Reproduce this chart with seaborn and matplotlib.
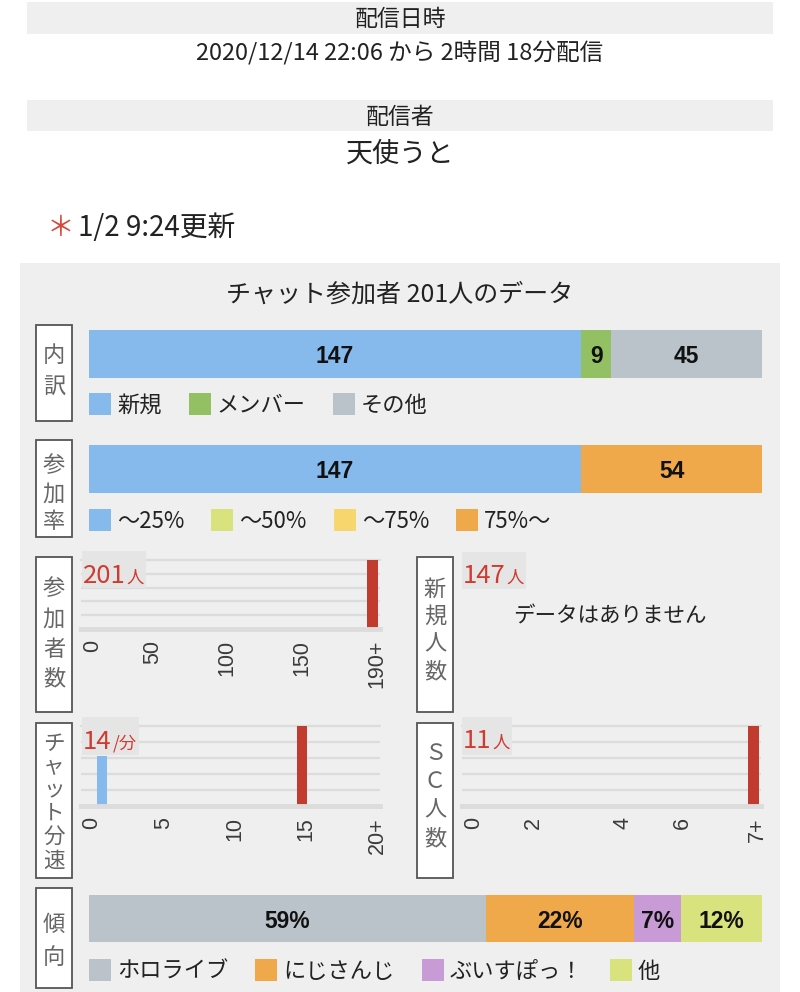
import itertools
import matplotlib
matplotlib.use("Agg")
import matplotlib.pyplot as plt
import matplotlib.transforms as mtransforms
import seaborn as sns
import pandas as pd
from matplotlib.patches import Rectangle

# ---------------- data ----------------
header_date_label = "配信日時"
stream_info = "2020/12/14 22:06 から 2時間 18分配信"
streamer_label = "配信者"
streamer = "天使うと"
update_mark = "＊"
update_text = "1/2 9:24更新"
title = "チャット参加者 201人のデータ"

breakdown_name = "内訳"
breakdown_labels = ["新規", "メンバー", "その他"]
breakdown_values = [147, 9, 45]

rate_name = "参加率"
rate_labels = ["～25%", "～50%", "～75%", "75%～"]
rate_values = [147, 0, 0, 54]

trend_name = "傾向"
trend_labels = ["ホロライブ", "にじさんじ", "ぶいすぽっ！", "他"]
trend_values = [59, 22, 7, 12]

count_name = "参加者数"
count_value = "201"
count_unit = "人"
count_hist = [0, 0, 0, 0, 0, 0, 0, 0, 0, 0, 0, 0, 0, 0, 0, 0, 0, 0, 0, 0]
count_marker_bin = 19
count_tick_bins = [0, 4, 9, 14, 19]
count_tick_labels = ["0", "50", "100", "150", "190+"]

new_name = "新規人数"
new_value = "147"
new_unit = "人"
no_data_text = "データはありません"

chat_name = "チャット分速"
chat_value = "14"
chat_unit = "/分"
chat_hist = [0, 0.62, 0, 0, 0, 0, 0, 0, 0, 0, 0, 0, 0, 0, 0, 0, 0, 0, 0, 0, 0]
chat_marker_bin = 15
chat_tick_bins = [0, 5, 10, 15, 20]
chat_tick_labels = ["0", "5", "10", "15", "20+"]

sc_name = "ＳＣ人数"
sc_value = "11"
sc_unit = "人"
sc_hist = [0, 0, 0, 0, 0, 0, 0, 0, 0, 0, 0, 0, 0, 0, 0, 0, 0, 0, 0, 0]
sc_marker_bin = 19
sc_tick_bins = [0, 4, 10, 14, 19]
sc_tick_labels = ["0", "2", "4", "6", "7+"]

# ---------------- style ----------------
BLUE = "#86b9ec"
GREEN = "#93c062"
GRAY = "#b9c3c9"
ORANGE = "#f0a94a"
LIME = "#d8e37d"
YELLOW = "#f8d66e"
PURPLE = "#c89ad6"
RED_BAR = "#c23b2f"
RED_TXT = "#cf3b30"
PANEL = "#efefef"
VBOX = "#e5e5e5"
TXT = "#222222"
GRID = "#dcdcdc"

breakdown_colors = [BLUE, GREEN, GRAY]
rate_colors = [BLUE, LIME, YELLOW, ORANGE]
trend_colors = [GRAY, ORANGE, PURPLE, LIME]

sns.set_theme(style="white")
JP = ['Noto Sans CJK JP', 'DejaVu Sans']
plt.rcParams['font.family'] = JP

W, H = 800, 992
fig = plt.figure(figsize=(W / 100, H / 100), dpi=100)
fig.patch.set_facecolor("white")
renderer = fig.canvas.get_renderer()


def px_axes(x0, y0, x1, y1, z):
    return fig.add_axes([x0 / W, 1 - y1 / H, (x1 - x0) / W, (y1 - y0) / H], zorder=z)


bg = px_axes(0, 0, W, H, 0)
bg.set_xlim(0, W)
bg.set_ylim(H, 0)
bg.axis("off")
ov = px_axes(0, 0, W, H, 10)
ov.set_xlim(0, W)
ov.set_ylim(H, 0)
ov.axis("off")

# ---------------- header ----------------
bg.add_patch(Rectangle((27, 2), 746, 32, color=PANEL, lw=0))
bg.text(400, 19, header_date_label, ha="center", va="center", fontsize=16.5, color=TXT)
bg.text(400, 53, stream_info, ha="center", va="center", fontsize=17, color=TXT)
bg.add_patch(Rectangle((27, 100), 746, 31, color=PANEL, lw=0))
bg.text(400, 117, streamer_label, ha="center", va="center", fontsize=16.5, color=TXT)
bg.text(400, 154, streamer, ha="center", va="center", fontsize=19.5, color=TXT)
bg.text(47, 228, update_mark, ha="left", va="center", fontsize=20, color="#d9463b")
bg.text(78, 228, update_text, ha="left", va="center", fontsize=20, color=TXT)

# ---------------- panel ----------------
bg.add_patch(Rectangle((20, 263), 760, H - 263, color=PANEL, lw=0))
bg.text(400, 295, title, ha="center", va="center", fontsize=18, color=TXT)


def vlabel(x0, y0, x1, y1, chars, ystart, step, fs=16):
    bg.add_patch(Rectangle((x0, y0), x1 - x0, y1 - y0, facecolor="white",
                           edgecolor="#555555", lw=1.3))
    for i, ch in enumerate(chars):
        bg.text((x0 + x1) / 2, ystart + i * step, ch, ha="center", va="center",
                fontsize=fs, color="#666666")


vlabel(36, 325, 72, 421, breakdown_name, 355, 32)
vlabel(36, 440, 72, 537, rate_name, 466, 28)
vlabel(36, 557, 72, 712, count_name, 589, 30)
vlabel(417, 557, 453, 712, new_name, 589, 27.5)
vlabel(36, 723, 72, 878, chat_name, 744, 23.3, fs=15.5)
vlabel(417, 723, 453, 878, sc_name, 753, 28.5)
vlabel(36, 888, 72, 988, trend_name, 924, 34)


def legend_row(y, labels, colors, x=89):
    for lab, col in zip(labels, colors):
        bg.add_patch(Rectangle((x, y - 11), 22, 22, color=col, lw=0))
        t = bg.text(x + 28, y + 1, lab, ha="left", va="center", fontsize=16, color=TXT)
        bb = t.get_window_extent(renderer)
        x = bb.x1 + 27


def stacked_bar(y0, y1, values, colors, fmt):
    ax = px_axes(89, y0, 762, y1, 2)
    cums = list(itertools.accumulate(values))
    for cum, col in reversed(list(zip(cums, colors))):
        sns.barplot(x=[cum], y=["bar"], color=col, width=1, saturation=1,
                    linewidth=0, orient="h", ax=ax)
    ax.set_xlim(0, cums[-1])
    ax.set_ylim(0.5, -0.5)
    ax.axis("off")
    for v, c in zip(values, cums):
        if v > 0:
            ax.text(c - v / 2, 0, fmt(v), ha="center", va="center_baseline",
                    fontsize=16.5, fontweight="bold", family="Liberation Sans",
                    color="#111111")


stacked_bar(330, 378, breakdown_values, breakdown_colors, lambda v: f"{v}")
legend_row(404, breakdown_labels, breakdown_colors)
stacked_bar(445, 493, rate_values, rate_colors, lambda v: f"{v}")
legend_row(520, rate_labels, rate_colors)
stacked_bar(895, 942, trend_values, trend_colors, lambda v: f"{v}%")
legend_row(970, trend_labels, trend_colors)

label_shift = mtransforms.ScaledTranslation(4 / 100, 0, fig.dpi_scale_trans)


def hist(x0, y0, x1, y1, heights, marker, tick_bins, tick_labels):
    ax = px_axes(x0, y0, x1, y1, 2)
    ax.patch.set_alpha(0)
    vals = list(heights)
    vals[marker] = 1.0
    cols = [RED_BAR if i == marker else BLUE for i in range(len(vals))]
    df = pd.DataFrame({"bin": list(range(len(vals))), "h": vals})
    sns.barplot(data=df, x="bin", y="h", hue="bin", palette=cols, width=0.72,
                saturation=1, legend=False, linewidth=0, ax=ax)
    ax.set_xlim(-0.5, len(vals) - 0.5)
    ax.set_ylim(0, 1.0)
    ax.set_yticks([0.2, 0.4, 0.6, 0.8, 1.0])
    ax.yaxis.grid(True, color=GRID, lw=1.6)
    ax.set_axisbelow(True)
    for s in ["top", "left", "right"]:
        ax.spines[s].set_visible(False)
    ax.spines["bottom"].set_color(GRID)
    ax.spines["bottom"].set_linewidth(3.5)
    ax.set_xlabel("")
    ax.set_ylabel("")
    ax.tick_params(axis="y", length=0, labelleft=False)
    ax.set_xticks(tick_bins)
    ax.set_xticklabels(tick_labels, rotation=90, fontsize=15.5, color="#3a3a3a",
                       family="Liberation Sans")
    ax.tick_params(axis="x", length=0, pad=8)
    for lab in ax.get_xticklabels():
        lab.set_transform(lab.get_transform() + label_shift)
    ax.yaxis.get_gridlines()[-1].set_clip_on(False)
    return ax


hist(81, 560, 380, 629, count_hist, count_marker_bin, count_tick_bins, count_tick_labels)
hist(81, 726, 380, 806, chat_hist, chat_marker_bin, chat_tick_bins, chat_tick_labels)
hist(462, 726, 761, 806, sc_hist, sc_marker_bin, sc_tick_bins, sc_tick_labels)


def value_box(x0, ytop, ybot, ybase, big, small):
    t1 = ov.text(x0 + 1, ybase, big, ha="left", va="baseline", fontsize=18.5,
                 color=RED_TXT, zorder=3)
    bb1 = t1.get_window_extent(renderer)
    t2 = ov.text(bb1.x1 + 1, ybase, small, ha="left", va="baseline", fontsize=12.5,
                 color=RED_TXT, zorder=3)
    bb2 = t2.get_window_extent(renderer)
    ov.add_patch(Rectangle((x0, ytop), bb2.x1 - x0 + 2, ybot - ytop, color=VBOX,
                           lw=0, zorder=1))


value_box(82, 551, 588, 583, count_value, count_unit)
value_box(462, 552, 589, 583, new_value, new_unit)
value_box(82, 717, 755, 749, chat_value, chat_unit)
value_box(462, 717, 755, 748, sc_value, sc_unit)

bg.text(610, 617, no_data_text, ha="center", va="center", fontsize=15.5, color=TXT)

fig.savefig("out.png", dpi=100, facecolor="white")
